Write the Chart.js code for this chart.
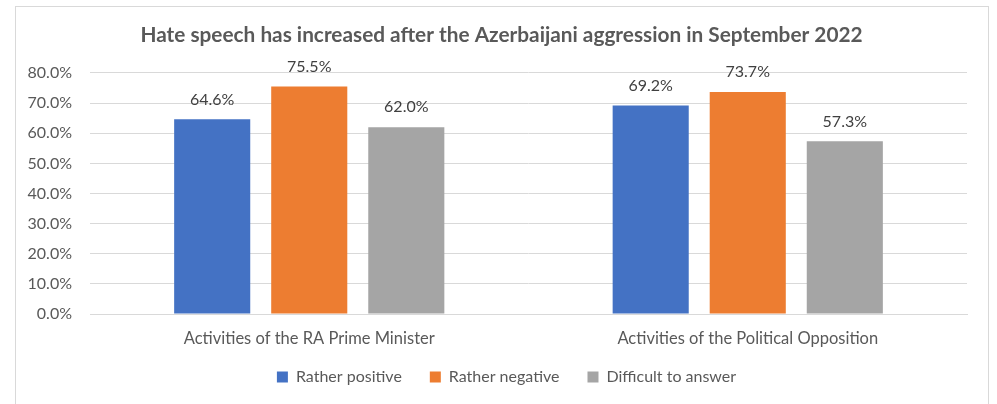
<!DOCTYPE html>
<html>
<head>
<meta charset="utf-8">
<script src="https://cdn.jsdelivr.net/npm/chart.js@4"></script>
<style>
    body { margin: 0; background: #fff; overflow: hidden; }
    #wrap { position: absolute; left: 15px; top: 6px; width: 972px; height: 397px; border: 1px solid #d9d9d9; border-bottom: none; }
</style>
</head>
<body>
<div id="wrap"><canvas id="overview" width="972" height="397"></canvas></div>
<script>
const categories = ["Activities of the RA Prime Minister", "Activities of the Political Opposition"];
const seriesNames = ["Rather positive", "Rather negative", "Difficult to answer"];
const ratherPositive = [64.6, 69.2];
const ratherNegative = [75.5, 73.7];
const difficultToAnswer = [62.0, 57.3];
const yTicks = [0, 10, 20, 30, 40, 50, 60, 70, 80];

document.addEventListener("DOMContentLoaded", () => {
    const colours = ["#4472C4", "#ED7D31", "#A5A5A5"];
    const values = [ratherPositive, ratherNegative, difficultToAnswer];
    const font = "Lato";

    const dataSets = seriesNames.map((name, i) => ({
        label: name,
        data: values[i],
        backgroundColor: colours[i],
        borderWidth: 0,
        categoryPercentage: 0.664,
        barPercentage: 0.784
    }));

    // draws the value above each bar
    const valueLabels = {
        id: "valueLabels",
        afterDatasetsDraw(chart) {
            const ctx = chart.ctx;
            ctx.save();
            ctx.font = "16px " + font;
            ctx.fillStyle = "#404040";
            ctx.textAlign = "center";
            ctx.textBaseline = "middle";
            chart.data.datasets.forEach((ds, i) => {
                chart.getDatasetMeta(i).data.forEach((bar, j) => {
                    ctx.fillText(ds.data[j].toFixed(1) + "%", bar.x, bar.y - 20);
                });
            });
            ctx.restore();
        }
    };

    // wide legend spacing also pads it vertically, so pull it back up under the axis,
    // and centre title + legend on the whole frame rather than the padded area
    function shift(box, dx, dy) {
        box.left += dx; box.right += dx;
        box.top += dy; box.bottom += dy;
    }
    const boxNudge = {
        id: "boxNudge",
        afterLayout(chart) {
            shift(chart.legend, 15, -13);
            shift(chart.titleBlock, 10, 0);
        }
    };

    new Chart(document.getElementById("overview").getContext("2d"), {
        type: "bar",
        data: { labels: categories, datasets: dataSets },
        plugins: [valueLabels, boxNudge],
        options: {
            responsive: false,
            animation: false,
            layout: { padding: { left: 0, right: 21, top: 16, bottom: 0 } },
            scales: {
                x: {
                    afterFit: (s) => { s.height = 40; },
                    grid: { display: false },
                    border: { display: true, color: "#d9d9d9" },
                    ticks: { color: "#595959", font: { family: font, size: 16.5 }, padding: 7 }
                },
                y: {
                    min: 0, max: 80,
                    afterBuildTicks: (s) => { s.ticks = yTicks.map(v => ({ value: v })); },
                    afterFit: (s) => { s.width = 74; },
                    grid: { color: "#d9d9d9", drawTicks: false },
                    border: { display: false },
                    ticks: {
                        color: "#595959", font: { family: font, size: 16 }, padding: 18,
                        callback: (v) => v.toFixed(1) + "%"
                    }
                }
            },
            plugins: {
                title: {
                    display: true,
                    text: "Hate speech has increased after the Azerbaijani aggression in September 2022",
                    color: "#595959",
                    font: { family: font, size: 20.8, weight: "bold" },
                    padding: { top: 0, bottom: 25 }
                },
                legend: {
                    position: "bottom",
                    maxHeight: 50,
                    labels: {
                        color: "#595959", font: { family: font, size: 16 },
                        boxWidth: 11, boxHeight: 11, padding: 28
                    }
                },
                tooltip: { enabled: false }
            }
        }
    });
});
</script>
</body>
</html>
